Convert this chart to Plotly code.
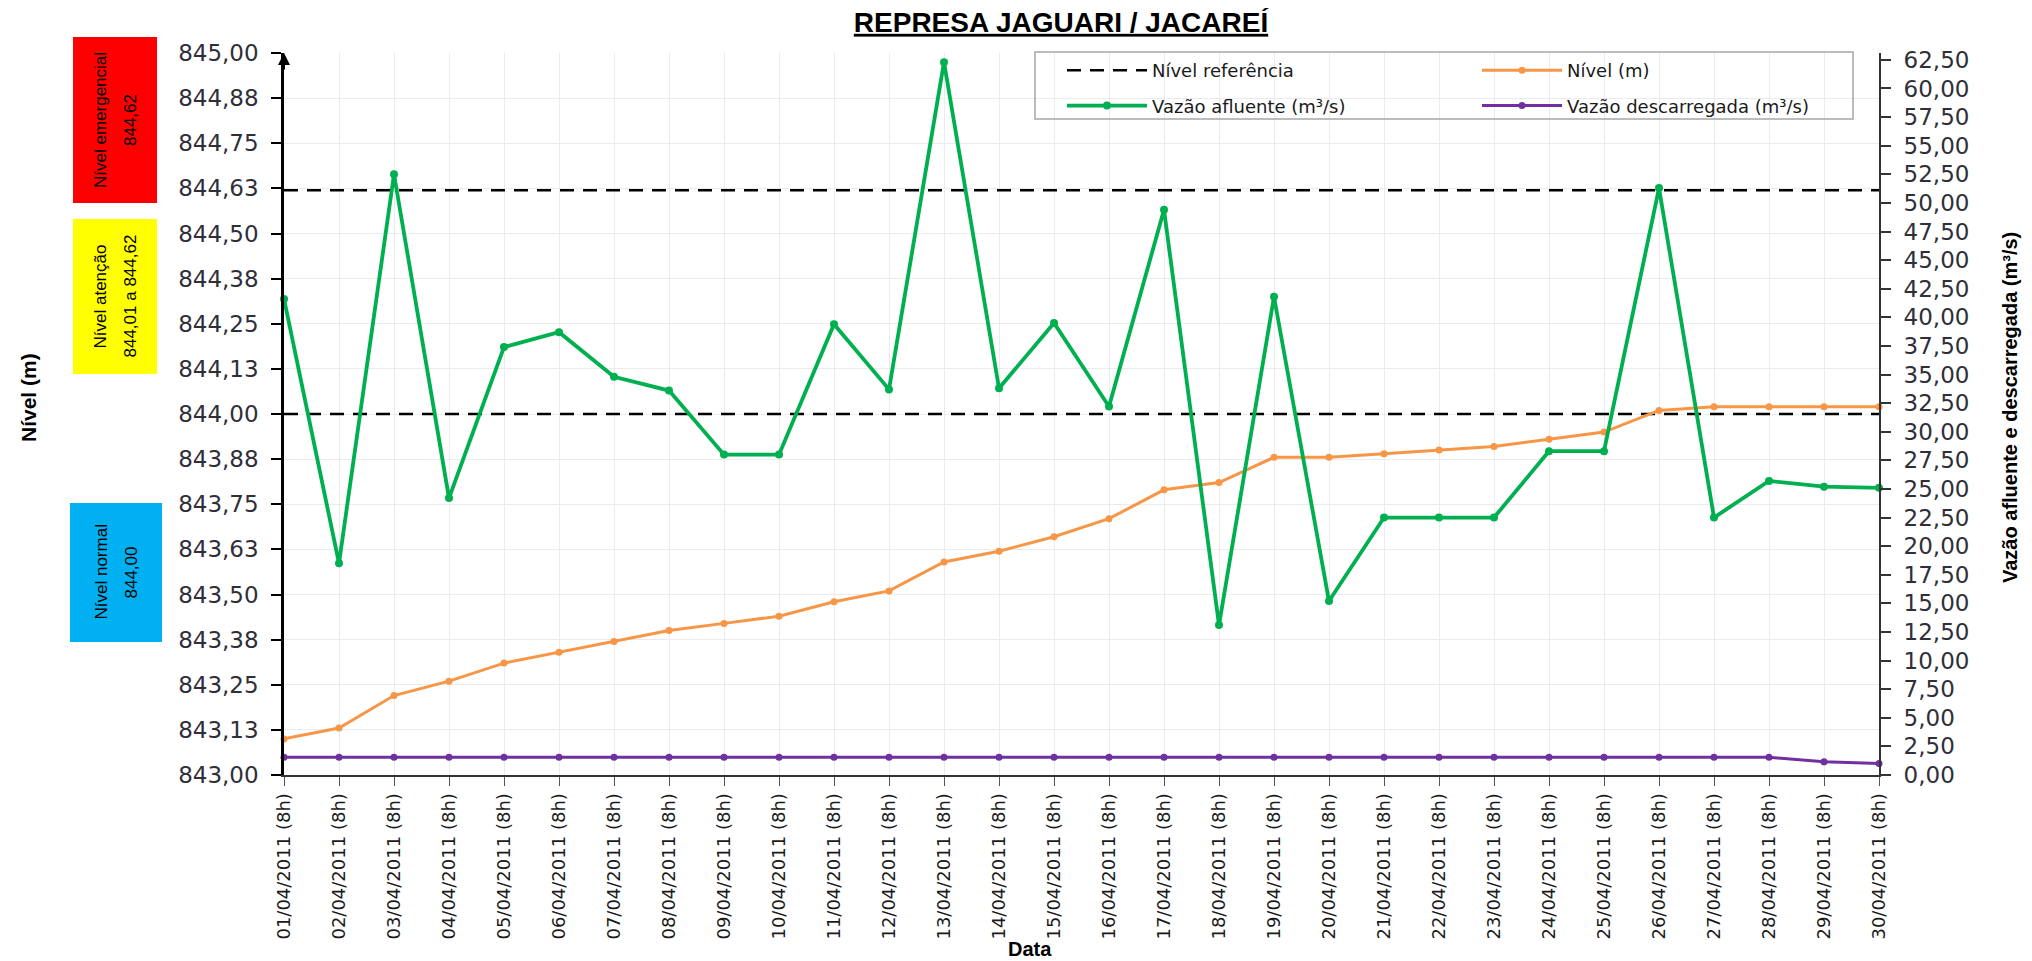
import plotly.graph_objects as go

# ---------------- data ----------------
datas = [
    "01/04/2011 (8h)", "02/04/2011 (8h)", "03/04/2011 (8h)", "04/04/2011 (8h)", "05/04/2011 (8h)",
    "06/04/2011 (8h)", "07/04/2011 (8h)", "08/04/2011 (8h)", "09/04/2011 (8h)", "10/04/2011 (8h)",
    "11/04/2011 (8h)", "12/04/2011 (8h)", "13/04/2011 (8h)", "14/04/2011 (8h)", "15/04/2011 (8h)",
    "16/04/2011 (8h)", "17/04/2011 (8h)", "18/04/2011 (8h)", "19/04/2011 (8h)", "20/04/2011 (8h)",
    "21/04/2011 (8h)", "22/04/2011 (8h)", "23/04/2011 (8h)", "24/04/2011 (8h)", "25/04/2011 (8h)",
    "26/04/2011 (8h)", "27/04/2011 (8h)", "28/04/2011 (8h)", "29/04/2011 (8h)", "30/04/2011 (8h)",
]

nivel_m = [843.10, 843.13, 843.22, 843.26, 843.31, 843.34, 843.37, 843.40, 843.42, 843.44,
           843.48, 843.51, 843.59, 843.62, 843.66, 843.71, 843.79, 843.81, 843.88, 843.88,
           843.89, 843.90, 843.91, 843.93, 843.95, 844.01, 844.02, 844.02, 844.02, 844.02]

vazao_afluente = [41.6, 18.5, 52.5, 24.2, 37.4, 38.7, 34.8, 33.6, 28.0, 28.0,
                  39.4, 33.7, 62.3, 33.8, 39.5, 32.2, 49.4, 13.1, 41.8, 15.2,
                  22.5, 22.5, 22.5, 28.3, 28.3, 51.3, 22.5, 25.7, 25.2, 25.1]

vazao_descarregada = [1.55, 1.55, 1.55, 1.55, 1.55, 1.55, 1.55, 1.55, 1.55, 1.55,
                      1.55, 1.55, 1.55, 1.55, 1.55, 1.55, 1.55, 1.55, 1.55, 1.55,
                      1.55, 1.55, 1.55, 1.55, 1.55, 1.55, 1.55, 1.55, 1.15, 1.00]

niveis_referencia = [844.62, 844.00]

nivel_tickvals = [843.0, 843.125, 843.25, 843.375, 843.5, 843.625, 843.75, 843.875, 844.0,
                  844.125, 844.25, 844.375, 844.5, 844.625, 844.75, 844.875, 845.0]
nivel_ticktext = ["843,00", "843,13", "843,25", "843,38", "843,50", "843,63", "843,75", "843,88", "844,00",
                  "844,13", "844,25", "844,38", "844,50", "844,63", "844,75", "844,88", "845,00"]

# ---------------- layout geometry (page pixels) ----------------
PAGE_W, PAGE_H = 2032, 961
OFF = 8                       # default body margin of the html page
W, H = PAGE_W - OFF, PAGE_H - OFF
PLOT_L, PLOT_R, PLOT_T, PLOT_B = 284, 1879, 53, 775
ML, MT = PLOT_L - OFF, PLOT_T - OFF
MR, MB = OFF + W - PLOT_R, OFF + H - PLOT_B
PW, PH = PLOT_R - PLOT_L, PLOT_B - PLOT_T


def px_x(px):
    return (px - PLOT_L) / PW


def px_y(py):
    return (PLOT_B - py) / PH


C_GREEN = "#00B050"
C_ORANGE = "#F79646"
C_PURPLE = "#7030A0"
TICK_FONT = dict(family="DejaVu Sans, Verdana, sans-serif", size=23, color="#2f2f3a")
BOX_FONT = dict(family="Liberation Sans Narrow, Arial Narrow, Liberation Sans, sans-serif", size=17, color="#000000")
TITLE_FONT = dict(family="Liberation Sans, Arial, sans-serif", size=20, color="#000000")
LEGEND_FONT = dict(family="DejaVu Sans, Verdana, sans-serif", size=18, color="#1a1a1a")

fig = go.Figure()

# reference level dashed lines
ref_x, ref_y = [], []
for lvl in niveis_referencia:
    ref_x += [datas[0], datas[-1], None]
    ref_y += [lvl, lvl, None]
fig.add_trace(go.Scatter(
    x=ref_x, y=ref_y, mode="lines", name="Nível referência",
    line=dict(color="#000000", width=2.5, dash="14px,9px"),
    connectgaps=False, cliponaxis=False, legend="legend", legendgroup="a",
))

fig.add_trace(go.Scatter(
    x=datas, y=nivel_m, mode="lines+markers", name="Nível (m)",
    line=dict(color=C_ORANGE, width=3), marker=dict(size=7, color=C_ORANGE),
    cliponaxis=False, legend="legend2", legendgroup="c",
))

fig.add_trace(go.Scatter(
    x=datas, y=vazao_afluente, mode="lines+markers", name="Vazão afluente (m³/s)",
    line=dict(color=C_GREEN, width=3.8), marker=dict(size=8, color=C_GREEN),
    yaxis="y2", cliponaxis=False, legend="legend", legendgroup="b",
))

fig.add_trace(go.Scatter(
    x=datas, y=vazao_descarregada, mode="lines+markers", name="Vazão descarregada (m³/s)",
    line=dict(color=C_PURPLE, width=3), marker=dict(size=7, color=C_PURPLE),
    yaxis="y2", cliponaxis=False, legend="legend2", legendgroup="d",
))

# ---------------- status boxes ----------------
boxes = [
    ("#FF0000", 73, 157, 37, 203, ["Nível emergencial", "844,62"]),
    ("#FFFF00", 73, 157, 219, 374, ["Nível atenção", "844,01 a 844,62"]),
    ("#00B0F0", 70, 162, 503, 642, ["Nível normal", "844,00"]),
]
shapes = []
annotations = []
for color, x0, x1, y0, y1, lines in boxes:
    shapes.append(dict(type="rect", xref="paper", yref="paper",
                       x0=px_x(x0), x1=px_x(x1), y0=px_y(y1), y1=px_y(y0),
                       fillcolor=color, line=dict(width=0), layer="above"))
    xc = (x0 + x1) / 2
    for k, txt in enumerate(lines):
        annotations.append(dict(xref="paper", yref="paper", x=px_x(xc - 15 + 30 * k), y=px_y((y0 + y1) / 2),
                                text=txt, showarrow=False, textangle=-90, font=BOX_FONT,
                                xanchor="center", yanchor="middle", align="center"))

# legend frame (two legend columns share one border)
shapes.append(dict(type="rect", xref="paper", yref="paper",
                   x0=px_x(1035), x1=px_x(1853), y0=px_y(119), y1=px_y(52),
                   fillcolor="rgba(0,0,0,0)", line=dict(color="#a6a6a6", width=1.5), layer="above"))

# axis titles
annotations.append(dict(xref="paper", yref="paper", x=px_x(28), y=px_y(398), text="<b>Nível (m)</b>",
                        showarrow=False, textangle=-90, font=dict(TITLE_FONT, size=21),
                        xanchor="center", yanchor="middle"))
annotations.append(dict(xref="paper", yref="paper", x=px_x(2010), y=px_y(408),
                        text="<b>Vazão afluente e descarregada (m³/s)</b>",
                        showarrow=False, textangle=-90, font=TITLE_FONT, xanchor="center", yanchor="middle"))
annotations.append(dict(xref="paper", yref="paper", x=px_x(1030), y=px_y(949), text="<b>Data</b>",
                        showarrow=False, font=TITLE_FONT, xanchor="center", yanchor="middle"))
# arrow at top of left axis
annotations.append(dict(xref="paper", yref="paper", x=0, y=1.0, ax=0, ay=18, showarrow=True,
                        arrowhead=2, arrowsize=1.2, arrowwidth=2, arrowcolor="#000000", text=""))

legend_common = dict(orientation="v", y=px_y(52), yanchor="top", itemwidth=80,
                     borderwidth=0, bgcolor="rgba(0,0,0,0)", font=LEGEND_FONT,
                     traceorder="grouped", tracegroupgap=9)

fig.update_layout(
    width=W, height=H,
    margin=dict(l=ML, r=MR, t=MT, b=MB, pad=0),
    paper_bgcolor="white", plot_bgcolor="white",
    separators=",.",
    title=dict(text="<b><u>REPRESA JAGUARI / JACAREÍ</u></b>", x=(1061 - OFF) / W, xanchor="center",
               y=1 - (22 - OFF) / H, yanchor="middle", xref="container", yref="container",
               font=dict(family="Liberation Sans, Arial, sans-serif", size=28, color="#000000")),
    showlegend=True,
    legend=dict(legend_common, x=px_x(1062), xanchor="left"),
    legend2=dict(legend_common, x=px_x(1477), xanchor="left"),
    xaxis=dict(type="category", categoryorder="array", categoryarray=datas,
               range=[0, len(datas) - 1], showgrid=True, gridcolor="#ebebeb", gridwidth=1,
               ticks="outside", ticklen=9, tickcolor="#555555", tickangle=-90,
               tickfont=dict(family="DejaVu Sans, Verdana, sans-serif", size=18, color="#1a1a1a"),
               showline=True, linecolor="#333333", linewidth=2, zeroline=False),
    yaxis=dict(range=[843, 845], tickvals=nivel_tickvals, ticktext=nivel_ticktext,
               showgrid=True, gridcolor="#ebebeb", gridwidth=1, zeroline=False,
               ticks="outside", ticklen=10, tickcolor="#000000", tickwidth=2,
               tickfont=TICK_FONT, showline=True, linecolor="#000000", linewidth=2.5,
               ticklabelstandoff=8),
    yaxis2=dict(overlaying="y", side="right", range=[0, 63.1], tick0=0, dtick=2.5, tickformat=".2f",
                showgrid=False, zeroline=False, ticks="outside", ticklen=10, tickcolor="#333333", tickwidth=2,
                tickfont=TICK_FONT, showline=True, linecolor="#333333", linewidth=2,
                ticklabelstandoff=8),
    shapes=shapes,
    annotations=annotations,
)

fig.write_html("out.html")
